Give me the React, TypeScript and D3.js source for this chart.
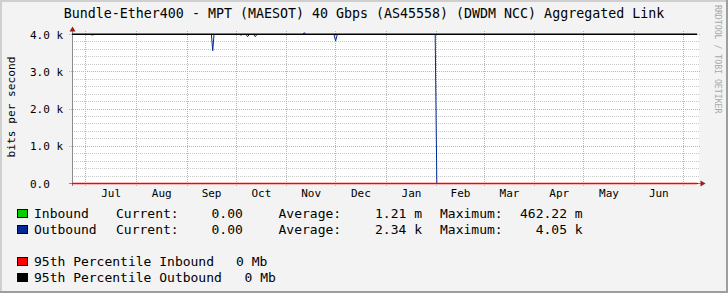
import React from "react";
import * as d3 from "d3";

const W = 728;
const H = 293;

const chartTitle = "Bundle-Ether400 - MPT (MAESOT) 40 Gbps (AS45558) (DWDM NCC) Aggregated Link";
const yAxisTitle = "bits per second";
const watermark = "RRDTOOL / TOBI OETIKER";

const timeStart = "2023-06-22 12:00";
const timeEnd = "2024-07-10 00:00";

const outboundTimes = [
  "2023-06-22 12:00", "2023-07-04 00:00", "2023-07-05 00:00", "2023-07-06 00:00",
  "2023-09-15 22:00", "2023-09-16 17:00", "2023-09-17 12:00",
  "2023-10-03 01:00", "2023-10-04 01:00", "2023-10-05 01:00",
  "2023-10-07 02:00", "2023-10-08 02:00", "2023-10-09 02:00",
  "2023-10-11 19:00", "2023-10-12 19:00", "2023-10-13 19:00",
  "2023-11-10 20:00", "2023-11-11 20:00", "2023-11-12 20:00",
  "2023-11-30 00:00", "2023-12-01 00:00", "2023-12-02 00:00",
  "2024-01-31 00:00", "2024-02-01 00:00", "2024-07-10 00:00",
];
const outboundValues = [
  4000, 4000, 3985, 4000,
  4000, 3565, 4000,
  4000, 3985, 4000,
  4000, 3941, 4000,
  4000, 3941, 4000,
  4000, 4050, 4000,
  4000, 3826, 4000,
  4000, 0, 0,
];
const inboundTimes = ["2023-06-22 12:00", "2024-07-10 00:00"];
const inboundValues = [0, 0];

const p95Inbound = 0;
const p95Outbound = 4005;

const yTickValues = [0, 1000, 2000, 3000, 4000];
const yTickLabels = ["0.0", "1.0 k", "2.0 k", "3.0 k", "4.0 k"];
const yMinorValues = [200, 400, 600, 800, 1200, 1400, 1600, 1800, 2200, 2400, 2600, 2800, 3200, 3400, 3600, 3800];

const legendSeries = ["Inbound", "Outbound"];
const legendColors = ["#00CF00", "#002A97"];
const legendCurrent = ["0.00", "0.00"];
const legendAverage = ["1.21 m", "2.34 k"];
const legendMaximum = ["462.22 m", "  4.05 k"];
const percentileLabels = ["95th Percentile Inbound", "95th Percentile Outbound"];
const percentileValues = ["0 Mb", "0 Mb"];
const percentileColors = ["#FF0000", "#000000"];

const parse = d3.timeParse("%Y-%m-%d %H:%M");
const FONT = "'DejaVu Sans Mono', monospace";

export default function App() {
  const t0 = parse(timeStart) as Date;
  const t1 = parse(timeEnd) as Date;
  const x = d3.scaleTime().domain([t0, t1]).range([72, 698]);
  const y = d3.scaleLinear().domain([0, 4000]).range([183.5, 34.5]);
  const crisp = (v: number) => Math.round(v - 0.5) + 0.5;

  const outbound = outboundTimes.map((t, i) => ({ t: parse(t) as Date, v: outboundValues[i] }));
  const inbound = inboundTimes.map((t, i) => ({ t: parse(t) as Date, v: inboundValues[i] }));
  const line = d3
    .line<{ t: Date; v: number }>()
    .x((d) => x(d.t))
    .y((d) => y(d.v));

  const months = d3.timeMonth.range(d3.timeMonth.ceil(t0), t1);
  const monthLabels = d3.timeMonth
    .range(d3.timeMonth.floor(t0), t1)
    .map((m) => {
      const next = d3.timeMonth.offset(m, 1);
      const mid = new Date((m.getTime() + next.getTime()) / 2);
      return { mid, label: d3.timeFormat("%b")(m) };
    })
    .filter((d) => d.mid >= t0 && d.mid <= t1);

  const xL = 72.5;
  const legendY = [218, 234];
  const pctY = [266, 282];
  const pctValX = [236, 244.5];

  return (
    <svg
      width={W}
      height={H}
      style={{ position: "absolute", left: 0, top: 0, display: "block" }}
      fontFamily={FONT}
    >
      <defs>
        <clipPath id="plotClip">
          <rect x={72} y={28} width={627} height={157} />
        </clipPath>
      </defs>
      <rect x={0} y={0} width={W} height={H} fill="#F3F3F3" />
      <rect x={0} y={0} width={W} height={2} fill="#CFCFCF" />
      <rect x={0} y={0} width={2} height={H} fill="#CFCFCF" />
      <rect x={W - 2} y={0} width={2} height={H} fill="#9E9E9E" />
      <rect x={0} y={H - 2} width={W} height={2} fill="#9E9E9E" />

      <rect x={72} y={34} width={627} height={150} fill="#FFFFFF" />

      {/* minor horizontal grid */}
      {yMinorValues.map((v) => (
        <line
          key={"mn" + v}
          x1={72}
          x2={699}
          y1={crisp(y(v))}
          y2={crisp(y(v))}
          stroke="#C8C8C8"
          strokeWidth={1}
          strokeDasharray="1,1"
        />
      ))}
      {/* major horizontal grid */}
      {yTickValues.map((v) => (
        <line
          key={"mj" + v}
          x1={69}
          x2={700}
          y1={crisp(y(v))}
          y2={crisp(y(v))}
          stroke="#EBA0A0"
          strokeWidth={1}
          strokeDasharray="1,1"
        />
      ))}
      {/* vertical grid */}
      {months.map((m) => (
        <line
          key={"vg" + m.getTime()}
          x1={crisp(x(m))}
          x2={crisp(x(m))}
          y1={31}
          y2={187}
          stroke="#EBA0A0"
          strokeWidth={1}
          strokeDasharray="1,1"
        />
      ))}

      {/* axes */}
      <line x1={xL} x2={xL} y1={29} y2={186} stroke="#8C8C8C" strokeWidth={1} />
      <line x1={69} x2={701} y1={183.5} y2={183.5} stroke="#8C8C8C" strokeWidth={1} />

      {/* data */}
      <g clipPath="url(#plotClip)">
        <path d={line(inbound) || ""} fill="none" stroke={legendColors[0]} strokeWidth={1} />
        <path d={line(outbound) || ""} fill="none" stroke={legendColors[1]} strokeWidth={1} />
      </g>
      <line x1={72} x2={697} y1={y(p95Inbound)} y2={y(p95Inbound)} stroke={percentileColors[0]} strokeWidth={1.5} />
      <line x1={72} x2={697} y1={y(p95Outbound)} y2={y(p95Outbound)} stroke={percentileColors[1]} strokeWidth={1.5} />

      {/* arrows */}
      <polygon points={`${xL},26.5 ${xL - 3},31.5 ${xL + 3},31.5`} fill="#9B1C1C" />
      <polygon points={`705.5,183.5 700.5,180.5 700.5,186.5`} fill="#9B1C1C" />

      {/* title */}
      <text x={364} y={18} textAnchor="middle" fontSize={13.3} fill="#000">
        {chartTitle}
      </text>

      {/* y axis title */}
      <text
        transform="translate(15,107) rotate(-90)"
        textAnchor="middle"
        fontSize={11.2}
        fill="#000"
      >
        {yAxisTitle}
      </text>

      {/* y tick labels */}
      {yTickValues.map((v, i) => (
        <text key={"yl" + v} x={30} y={y(v) + 4} fontSize={11} fill="#000">
          {yTickLabels[i]}
        </text>
      ))}

      {/* month labels */}
      {monthLabels.map((d) => (
        <text key={"ml" + d.label} x={x(d.mid)} y={197} textAnchor="middle" fontSize={11} fill="#000">
          {d.label}
        </text>
      ))}

      {/* watermark */}
      <text transform="translate(715,5) rotate(90)" fontSize={8.2} fill="#A8A8A8">
        {watermark}
      </text>

      {/* legend */}
      {legendSeries.map((s, i) => (
        <g key={"lg" + s} fontSize={13} fill="#000" style={{ whiteSpace: "pre" }}>
          <rect x={17.5} y={legendY[i] - 8.5} width={10} height={8} fill={legendColors[i]} stroke="#000" strokeWidth={1} />
          <text x={34} y={legendY[i]}>{s}</text>
          <text x={116} y={legendY[i]}>Current:</text>
          <text x={211.5} y={legendY[i]}>{legendCurrent[i]}</text>
          <text x={278.5} y={legendY[i]}>Average:</text>
          <text x={375} y={legendY[i]}>{legendAverage[i]}</text>
          <text x={440} y={legendY[i]}>Maximum:</text>
          <text x={520} y={legendY[i]} xmlSpace="preserve">{legendMaximum[i]}</text>
        </g>
      ))}
      {percentileLabels.map((s, i) => (
        <g key={"pc" + s} fontSize={13} fill="#000">
          <rect x={17.5} y={pctY[i] - 8.5} width={10} height={8} fill={percentileColors[i]} stroke="#000" strokeWidth={1} />
          <text x={34} y={pctY[i]}>{s}</text>
          <text x={pctValX[i]} y={pctY[i]}>{percentileValues[i]}</text>
        </g>
      ))}
    </svg>
  );
}
